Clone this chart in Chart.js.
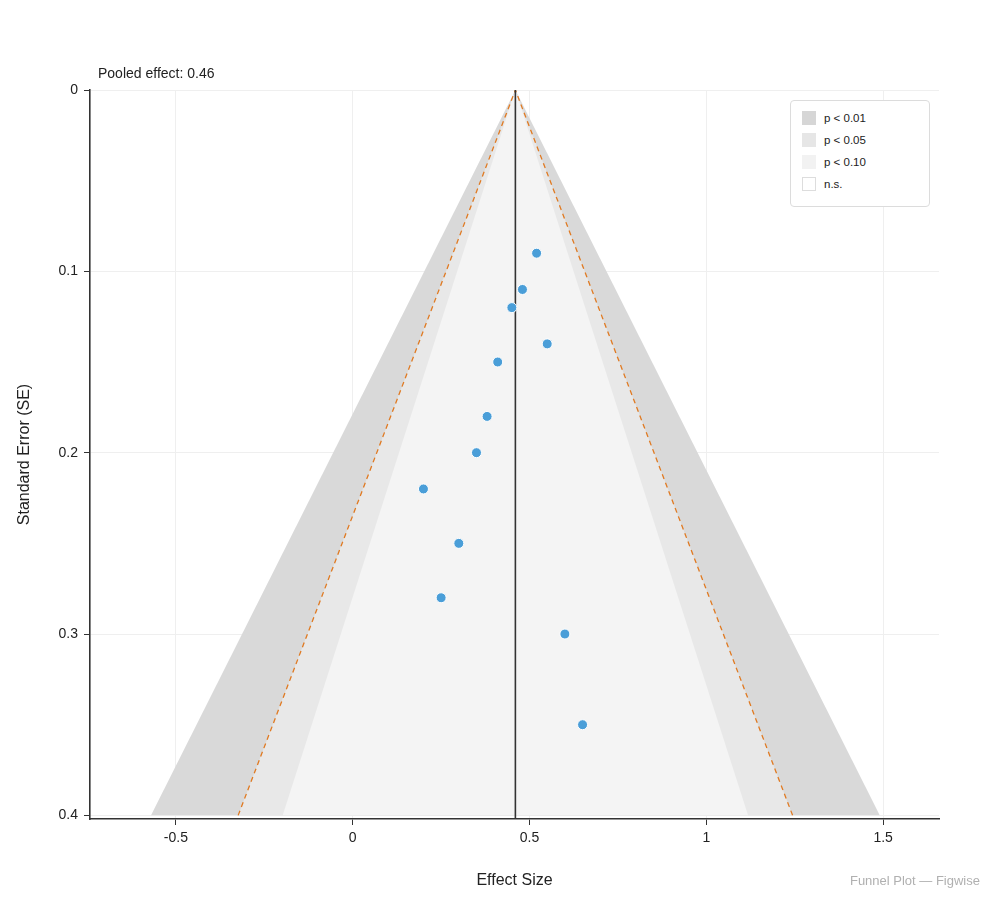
<!DOCTYPE html>
<html>
<head>
<meta charset="utf-8">
<script src="https://cdn.jsdelivr.net/npm/chart.js@4.4.1/dist/chart.umd.min.js"></script>
<style>
  html, body { margin: 0; padding: 0; background: #fff; }
  #wrap { position: relative; width: 1000px; height: 900px; font-family: "Liberation Sans", Arial, Helvetica, sans-serif; }
  canvas { position: absolute; left: 0; top: 0; }
  .note { position: absolute; left: 98px; top: 65px; font-size: 14px; line-height: 16px; color: #222; }
  .footer { position: absolute; right: 20px; top: 873px; font-size: 13px; color: #b0b0b0; }
  .legend { position: absolute; left: 790px; top: 100px; width: 140px; height: 107px; border: 1px solid #dcdcdc; border-radius: 4px; background: #fff; box-sizing: border-box; }
  .item { position: absolute; left: 11px; height: 14px; font-size: 11.5px; color: #222; line-height: 14px; }
  .sw { position: absolute; left: 0; top: 0; width: 14px; height: 14px; box-sizing: border-box; }
  .lab { position: absolute; left: 22px; top: 0; white-space: nowrap; }
</style>
</head>
<body>
<div id="wrap">
  <canvas id="c" width="1000" height="900"></canvas>
  <div class="note">Pooled effect: 0.46</div>
  <div class="legend" id="legend"></div>
  <div class="footer">Funnel Plot — Figwise</div>
</div>
<script>
// ---- data ----
const effects = [0.52, 0.48, 0.45, 0.55, 0.41, 0.38, 0.35, 0.20, 0.30, 0.25, 0.60, 0.65];
const ses     = [0.09, 0.11, 0.12, 0.14, 0.15, 0.18, 0.20, 0.22, 0.25, 0.28, 0.30, 0.35];
const pooled = 0.46;
const maxSE = 0.4;
const contourZ = [2.576, 1.96, 1.645];           // p<0.01, p<0.05, p<0.10
const contourColors = ['#d9d9d9', '#e8e8e8', '#f4f4f4'];
const legendLabels = ['p < 0.01', 'p < 0.05', 'p < 0.10', 'n.s.'];
const legendColors = ['#d6d6d6', '#e6e6e6', '#f2f2f2', '#ffffff'];
const xTicks = [-0.5, 0, 0.5, 1, 1.5];
const yTicks = [0, 0.1, 0.2, 0.3, 0.4];

// ---- legend (html) ----
const lg = document.getElementById('legend');
legendLabels.forEach((t, i) => {
  const d = document.createElement('div');
  d.className = 'item';
  d.style.top = (10 + i * 22) + 'px';
  const border = i === 3 ? '1px solid #dddddd' : '1px solid ' + legendColors[i];
  d.innerHTML = '<div class="sw" style="background:' + legendColors[i] + ';border:' + border + '"></div><div class="lab">' + t + '</div>';
  lg.appendChild(d);
});

// ---- funnel datasets ----
function funnel(z) {
  return [
    { x: pooled - z * maxSE, y: maxSE },
    { x: pooled, y: 0 },
    { x: pooled + z * maxSE, y: maxSE }
  ];
}
const datasets = [];
datasets.push({
  type: 'scatter',
  label: 'Studies',
  data: effects.map((e, i) => ({ x: e, y: ses[i] })),
  backgroundColor: '#4a9ed8',
  borderColor: '#ffffff',
  borderWidth: 1,
  pointRadius: 5,
  order: 0
});
datasets.push({
  type: 'line',
  label: 'Pooled',
  data: [{ x: pooled, y: 0 }, { x: pooled, y: 0.402 }],
  borderColor: '#333333',
  borderWidth: 1.6,
  pointRadius: 0,
  fill: false,
  order: 1
});
datasets.push({
  type: 'line',
  label: '95% limits',
  data: funnel(contourZ[1]),
  borderColor: '#e07a22',
  borderWidth: 1.3,
  borderDash: [5, 4],
  pointRadius: 0,
  fill: false,
  order: 2
});
contourZ.forEach((z, i) => {
  datasets.push({
    type: 'line',
    label: 'contour ' + z,
    data: funnel(z),
    borderWidth: 0,
    borderColor: 'rgba(0,0,0,0)',
    backgroundColor: contourColors[i],
    pointRadius: 0,
    fill: { value: maxSE },
    order: 10 - i
  });
});

const font = { family: '"Liberation Sans", Arial, Helvetica, sans-serif' };

new Chart(document.getElementById('c'), {
  data: { datasets },
  options: {
    responsive: false,
    animation: false,
    events: [],
    layout: { padding: { left: 0, top: 90, right: 61, bottom: 0 } },
    plugins: { legend: { display: false }, tooltip: { enabled: false } },
    scales: {
      x: {
        type: 'linear',
        min: -0.743,
        max: 1.658,
        z: 1,
        afterBuildTicks: s => { s.ticks = xTicks.map(v => ({ value: v })); },
        afterFit: s => { s.height = 81; },
        grid: { color: '#efefef', lineWidth: 1, tickColor: '#333', tickLength: 6, drawTicks: true },
        border: { color: '#333', width: 1.6 },
        ticks: { color: '#222', font: { ...font, size: 14 }, padding: 5, maxRotation: 0,
                 callback: v => String(v) },
        title: { display: true, text: 'Effect Size', color: '#222', font: { ...font, size: 16 }, padding: { bottom: 10 } }
      },
      y: {
        type: 'linear',
        reverse: true,
        min: 0,
        max: 0.402,
        z: 1,
        afterBuildTicks: s => { s.ticks = yTicks.map(v => ({ value: v })); },
        afterFit: s => { s.width = 90; },
        grid: { color: '#efefef', lineWidth: 1, tickColor: '#333', tickLength: 6, drawTicks: true },
        border: { color: '#333', width: 1.6 },
        ticks: { color: '#222', font: { ...font, size: 14 }, padding: 6,
                 callback: v => String(v) },
        title: { display: true, text: 'Standard Error (SE)', color: '#222', font: { ...font, size: 16 }, padding: { top: 15 } }
      }
    }
  }
});
</script>
</body>
</html>
